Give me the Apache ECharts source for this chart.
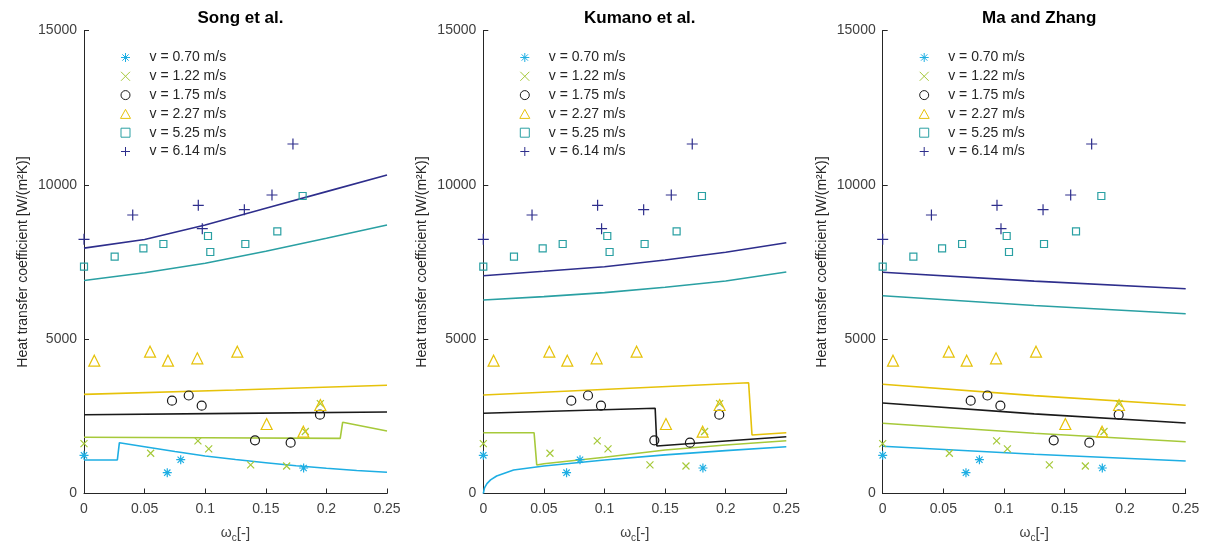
<!DOCTYPE html>
<html>
<head>
<meta charset="utf-8">
<script src="https://cdn.jsdelivr.net/npm/echarts@6/dist/echarts.min.js"></script>
<style>
html,body{margin:0;padding:0;background:#fff;}
#chart{width:1213px;height:551px;}
</style>
</head>
<body>
<div id="chart"></div>
<script>
// ---------- data ----------
const panelTitles = ['Song et al.', 'Kumano et al.', 'Ma and Zhang'];
const seriesNames = ['v = 0.70 m/s', 'v = 1.22 m/s', 'v = 1.75 m/s', 'v = 2.27 m/s', 'v = 5.25 m/s', 'v = 6.14 m/s'];
const xTicks = [0, 0.05, 0.1, 0.15, 0.2, 0.25];
const yTicks = [0, 5000, 10000, 15000];

// experimental points (same in every panel): [omega_c, h]
const exp070 = [[0,1237],[0.0687,674],[0.0798,1095],[0.1812,826]];
const exp122 = [[0,1615],[0.055,1305],[0.094,1705],[0.1029,1445],[0.1375,928],[0.1672,891],[0.1826,2010],[0.195,2910]];
const exp175 = [[0.0726,3007],[0.0864,3175],[0.0971,2845],[0.1411,1723],[0.1705,1646],[0.1947,2553]];
const exp227 = [[0.0085,4303],[0.0545,4594],[0.0693,4303],[0.0935,4379],[0.1265,4594],[0.1507,2252],[0.181,2003],[0.195,2867]];
const exp525 = [[0,7348],[0.0253,7672],[0.049,7943],[0.0655,8083],[0.1023,8342],[0.1042,7824],[0.1331,8083],[0.1595,8494],[0.1804,9638]];
const exp614 = [[0,8235],[0.0402,9023],[0.0943,9337],[0.0976,8579],[0.1323,9195],[0.1551,9671],[0.1724,11323]];

// model curves: Song et al.
const song070 = [[0,1085],[0.0275,1085],[0.0292,1646],[0.05,1516],[0.075,1360],[0.1,1215],[0.125,1100],[0.15,998],[0.175,900],[0.2,816],[0.225,745],[0.25,687]];
const song122 = [[0,1821],[0.1,1805],[0.2114,1787],[0.2134,2306],[0.25,2025]];
const song175 = [[0,2553],[0.125,2595],[0.25,2640]];
const song227 = [[0,3213],[0.125,3355],[0.25,3505]];
const song525 = [[0,6900],[0.05,7150],[0.1,7460],[0.15,7850],[0.2,8270],[0.25,8700]];
const song614 = [[0,7950],[0.05,8230],[0.1,8700],[0.15,9240],[0.2,9780],[0.25,10319]];

// model curves: Kumano et al.
const kum070 = [[0,0],[0.001,180],[0.003,320],[0.006,440],[0.011,567],[0.025,761],[0.05,891],[0.1,1085],[0.15,1250],[0.2,1390],[0.25,1516]];
const kum122 = [[0,1970],[0.0419,1970],[0.0441,923],[0.05,965],[0.1,1172],[0.15,1409],[0.2,1571],[0.25,1711]];
const kum175 = [[0,2598],[0.1418,2760],[0.1432,1539],[0.2,1700],[0.25,1840]];
const kum227 = [[0,3191],[0.2189,3590],[0.2217,1895],[0.25,1970]];
const kum525 = [[0,6269],[0.05,6377],[0.1,6507],[0.15,6680],[0.2,6885],[0.25,7177]];
const kum614 = [[0,7056],[0.05,7199],[0.1,7348],[0.15,7565],[0.2,7814],[0.25,8126]];

// model curves: Ma and Zhang
const ma070 = [[0,1529],[0.125,1270],[0.25,1053]];
const ma122 = [[0,2274],[0.125,1950],[0.25,1678]];
const ma175 = [[0,2932],[0.125,2580],[0.25,2284]];
const ma227 = [[0,3537],[0.125,3170],[0.25,2857]];
const ma525 = [[0,6408],[0.125,6090],[0.25,5825]];
const ma614 = [[0,7166],[0.125,6880],[0.25,6634]];

// ---------- styling ----------
const colors = ['#1eaee3', '#a6c93a', '#1a1a1a', '#e6c20a', '#2aa0a3', '#2e2e8c'];
const symbols = [
  'path://M0,5L10,5M5,0L5,10M1.5,1.5L8.5,8.5M8.5,1.5L1.5,8.5',
  'path://M0,0L10,10M10,0L0,10',
  'path://M10,5A5,5,0,1,1,0,5A5,5,0,1,1,10,5Z',
  'path://M5,0L10,9L0,9Z',
  'path://M0,0L10,0L10,10L0,10Z',
  'path://M0,5L10,5M5,0L5,10'
];
const symbolSizes = [9, 7, 9, 11, 7, 11];
const expData = [exp070, exp122, exp175, exp227, exp525, exp614];
const modelData = [
  [song070, song122, song175, song227, song525, song614],
  [kum070, kum122, kum175, kum227, kum525, kum614],
  [ma070, ma122, ma175, ma227, ma525, ma614]
];
const gridLefts = [84, 483.3, 882.7];
const gridW = 303, gridTop = 30.5, gridH = 463;
const font = '"Liberation Sans", Arial, Helvetica, sans-serif';

const grids = [], xAxes = [], yAxes = [], titles = [], legends = [], series = [];
for (let p = 0; p < 3; p++) {
  grids.push({left: gridLefts[p], top: gridTop, width: gridW, height: gridH, containLabel: false});
  titles.push({
    text: panelTitles[p], left: gridLefts[p] + gridW / 2, top: 5, textAlign: 'center',
    textStyle: {fontFamily: font, fontSize: 17, fontWeight: 'bold', color: '#000'}
  });
  xAxes.push({
    gridIndex: p, type: 'value', min: xTicks[0], max: xTicks[xTicks.length - 1], interval: 0.05,
    axisLine: {show: true, onZero: false, lineStyle: {color: '#262626', width: 1}},
    axisTick: {show: true, inside: true, length: 5, lineStyle: {color: '#262626'}},
    splitLine: {show: false},
    axisLabel: {color: '#404040', fontSize: 14, fontFamily: font, margin: 9, formatter: v => String(v)},
    name: '{w|ω}{s|c}{b|[-]}', nameLocation: 'middle', nameGap: 30,
    nameTextStyle: {
      rich: {
        w: {fontSize: 14, fontFamily: font, color: '#404040'},
        s: {fontSize: 10, fontFamily: font, color: '#404040', padding: [10, 0, 0, 0]},
        b: {fontSize: 15, fontFamily: font, color: '#404040'}
      }
    }
  });
  yAxes.push({
    gridIndex: p, type: 'value', min: yTicks[0], max: yTicks[yTicks.length - 1], interval: 5000,
    axisLine: {show: true, onZero: false, lineStyle: {color: '#262626', width: 1}},
    axisTick: {show: true, inside: true, length: 5, lineStyle: {color: '#262626'}},
    splitLine: {show: false},
    axisLabel: {color: '#404040', fontSize: 14, fontFamily: font, margin: 7, formatter: v => String(v)},
    name: 'Heat transfer coefficient [W/(m²K)]', nameLocation: 'middle', nameGap: 54, nameRotate: 90,
    nameTextStyle: {fontSize: 14, fontFamily: font, color: '#262626'}
  });
  legends.push({
    data: seriesNames.slice(), orient: 'vertical', left: gridLefts[p] + 36, top: 50.5,
    padding: 0, itemWidth: 38, itemHeight: 9, itemGap: 4.8, symbolKeepAspect: true,
    selectedMode: false,
    itemStyle: {borderWidth: 1},
    textStyle: {fontFamily: font, fontSize: 14, color: '#262626'}
  });
  for (let k = 0; k < 6; k++) {
    series.push({
      name: 'model ' + p + ' ' + k, type: 'line', xAxisIndex: p, yAxisIndex: p,
      data: modelData[p][k], showSymbol: false, symbol: 'none', smooth: false,
      lineStyle: {color: colors[k], width: 1.6}, itemStyle: {color: colors[k]},
      silent: true, z: 2
    });
  }
  for (let k = 0; k < 6; k++) {
    series.push({
      name: seriesNames[k], type: 'scatter', xAxisIndex: p, yAxisIndex: p,
      data: expData[k], symbol: symbols[k], symbolSize: symbolSizes[k],
      itemStyle: {color: 'rgba(0,0,0,0)', borderColor: colors[k], borderWidth: 1.2, opacity: 1},
      silent: true, z: 3
    });
  }
}

const chart = echarts.init(document.getElementById('chart'), null, {renderer: 'canvas'});
chart.setOption({
  animation: false,
  backgroundColor: '#fff',
  title: titles,
  legend: legends,
  grid: grids,
  xAxis: xAxes,
  yAxis: yAxes,
  series: series
});
</script>
</body>
</html>
